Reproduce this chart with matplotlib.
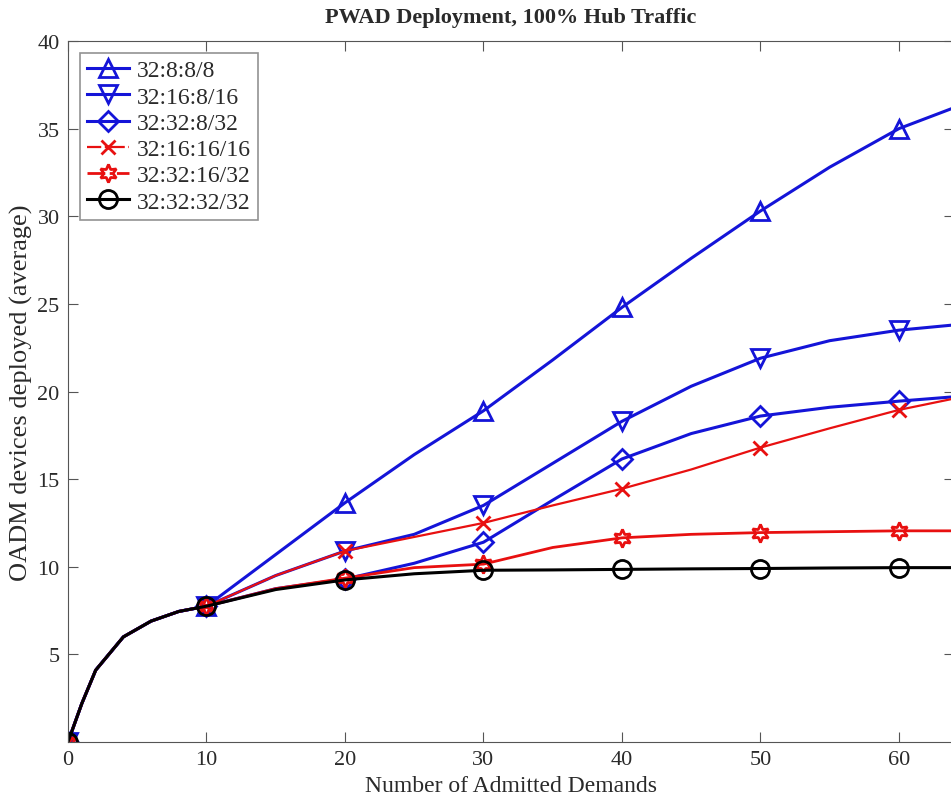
import matplotlib
matplotlib.use("Agg")
import matplotlib.pyplot as plt

# number of admitted demands (markers drawn every 10)
demands = [0, 1, 2, 4, 6, 8, 10, 15, 20, 25, 30, 35, 40, 45, 50, 55, 60, 64]

# OADM devices deployed (average)
s_8_8 = [0, 2.2, 4.1, 6.0, 6.9, 7.45, 7.75, 10.7, 13.65, 16.4, 18.9, 21.8, 24.8, 27.6, 30.3, 32.8, 35.0, 36.2]
s_16_8_16 = [0, 2.2, 4.1, 6.0, 6.9, 7.45, 7.75, 9.5, 10.9, 11.85, 13.5, 15.9, 18.3, 20.3, 21.9, 22.9, 23.5, 23.8]
s_32_8_32 = [0, 2.2, 4.1, 6.0, 6.9, 7.45, 7.75, 8.75, 9.3, 10.2, 11.4, 13.8, 16.15, 17.6, 18.6, 19.1, 19.45, 19.7]
s_16_16_16 = [0, 2.2, 4.1, 6.0, 6.9, 7.45, 7.75, 9.5, 10.9, 11.7, 12.5, 13.5, 14.45, 15.55, 16.8, 17.9, 18.95, 19.6]
s_32_16_32 = [0, 2.2, 4.1, 6.0, 6.9, 7.45, 7.75, 8.75, 9.35, 9.95, 10.15, 11.1, 11.65, 11.85, 11.95, 12.0, 12.05, 12.05]
s_32_32_32 = [0, 2.2, 4.1, 6.0, 6.9, 7.45, 7.75, 8.7, 9.25, 9.6, 9.8, 9.82, 9.85, 9.88, 9.9, 9.93, 9.95, 9.95]

labels = ["32:8:8/8", "32:16:8/16", "32:32:8/32", "32:16:16/16", "32:32:16/32", "32:32:32/32"]
series = [s_8_8, s_16_8_16, s_32_8_32, s_16_16_16, s_32_16_32, s_32_32_32]

styles = [
    dict(color="#1414d8", marker="^", ms=13, lw=2.2),
    dict(color="#1414d8", marker="v", ms=13, lw=2.2),
    dict(color="#1414d8", marker="D", ms=10, lw=2.2),
    dict(color="#e81010", marker="x", ms=10, lw=1.6, ls="-."),
    dict(color="#e81010", marker=(6, 1, 0), ms=13, lw=2.0, ls="-."),
    dict(color="black", marker="o", ms=13, lw=2.2),
]

mark_idx = [i for i, d in enumerate(demands) if d % 10 == 0]

plt.rcParams["font.family"] = ["Liberation Serif", "DejaVu Serif"]
txt = "#2a2a2a"

fig = plt.figure(figsize=(9.51, 8.03), dpi=100)
ax = fig.add_axes([0.0715, 0.0747, 0.932, 0.873])

for ys, lab, st in zip(series, labels, styles):
    ls = st.get("ls", "-")
    # draw the line solid, legend shows the broken look of the red ones
    ax.plot(demands, ys, color=st["color"], lw=st["lw"], ls="-",
            marker=st["marker"], ms=st["ms"], markevery=mark_idx,
            mfc="none", mec=st["color"], mew=2, label=None)
    ax.plot([], [], color=st["color"], lw=st["lw"], ls=ls, marker=st["marker"],
            ms=st["ms"], mfc="none", mec=st["color"], mew=2, label=lab)

ax.set_xlim(0, 64)
ax.set_ylim(0, 40)
ax.set_xticks([0, 10, 20, 30, 40, 50, 60])
ax.set_yticks([5, 10, 15, 20, 25, 30, 35, 40])
ax.tick_params(direction="in", length=7, labelsize=16, top=True, right=True,
               color="#555555", labelcolor=txt, pad=6)
for sp in ax.spines.values():
    sp.set_color("#555555")

ax.set_xlabel("Number of Admitted Demands", fontsize=17, labelpad=4, color=txt)
ax.set_ylabel("OADM devices deployed (average)", fontsize=19, labelpad=3, color=txt)
ax.set_title("PWAD Deployment, 100% Hub Traffic", fontsize=16, fontweight="bold",
             pad=14, color=txt)

leg = ax.legend(loc="upper left", fontsize=17, frameon=True, fancybox=False,
                edgecolor="#777777", handlelength=1.8, borderpad=0.3,
                labelspacing=0.2, handletextpad=0.3, borderaxespad=0.5)
leg.get_frame().set_linewidth(1.2)
for t in leg.get_texts():
    t.set_color(txt)

fig.savefig("out.png", dpi=100)
